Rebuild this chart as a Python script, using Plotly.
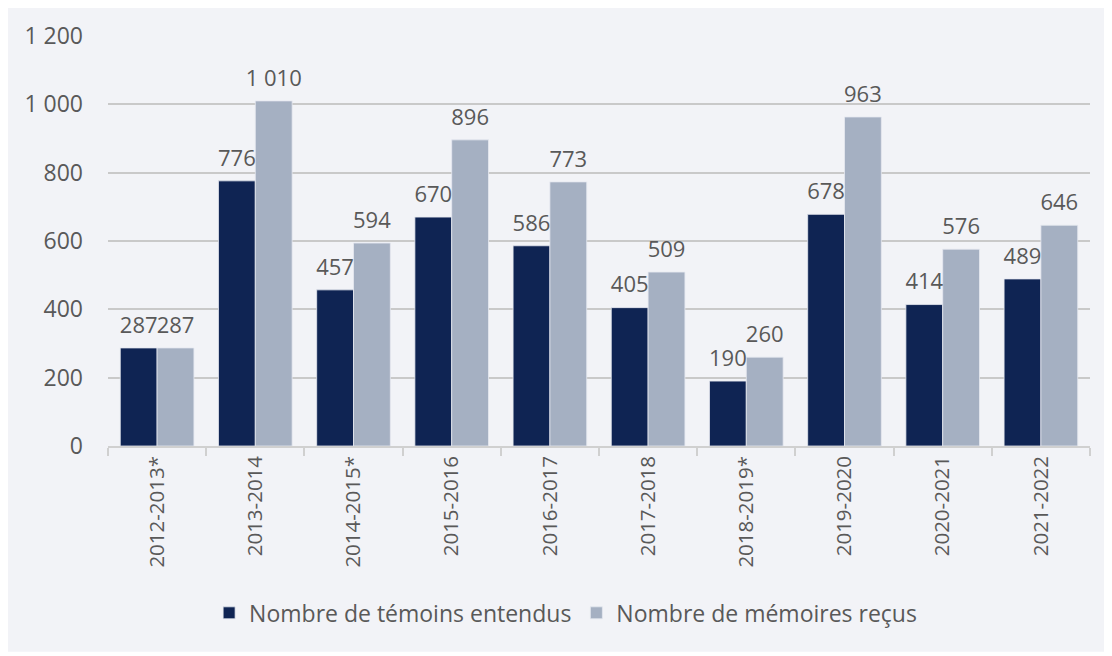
import plotly.graph_objects as go

# Données
annees = ['2012-2013*', '2013-2014', '2014-2015*', '2015-2016', '2016-2017',
          '2017-2018', '2018-2019*', '2019-2020', '2020-2021', '2021-2022']
temoins = [287, 776, 457, 670, 586, 405, 190, 678, 414, 489]
memoires = [287, 1010, 594, 896, 773, 509, 260, 963, 576, 646]


def fmt(v):
    return f"{v:,}".replace(",", " ")


police = "Open Sans, DejaVu Sans, sans-serif"
gris_texte = "#595959"

fig = go.Figure()
series = [("Nombre de témoins entendus", temoins, "#0f2453"),
          ("Nombre de mémoires reçus", memoires, "#a5b0c2")]
for nom, valeurs, couleur in series:
    fig.add_trace(go.Bar(
        x=annees, y=valeurs, name=nom,
        marker=dict(color=couleur, line=dict(color="#e6e9f0", width=0.8)),
    ))
# étiquettes de valeurs (un peu décollées des barres)
for nom, valeurs, couleur in series:
    fig.add_trace(go.Scatter(
        x=annees, y=valeurs, mode="markers+text", showlegend=False,
        marker=dict(size=14, opacity=0), hoverinfo="skip",
        text=[fmt(v) for v in valeurs], textposition="top center", cliponaxis=False,
        textfont=dict(size=22, color=gris_texte, family=police),
    ))

# Fond gris du graphique
fig.add_shape(type="rect", xref="paper", yref="paper", layer="below",
              x0=-0.102, x1=1.0163, y0=-0.502, y1=1.068,
              fillcolor="#f2f3f7", line=dict(width=0))

# la page ajoute une marge de 8 px autour de la figure
fig.update_layout(
    width=1104, height=648,
    margin=dict(l=100, r=22, t=28, b=210),
    paper_bgcolor="white", plot_bgcolor="rgba(0,0,0,0)",
    font=dict(family=police, color=gris_texte, size=18),
    barmode="group", bargap=0.25, bargroupgap=0,
    scattermode="group", scattergap=0.25,
    separators=", ",
    legend=dict(orientation="h", x=0.466, xanchor="center", y=-0.407, yanchor="middle",
                font=dict(size=23, color=gris_texte),
                itemwidth=30, bgcolor="rgba(0,0,0,0)"),
)
fig.update_yaxes(range=[0, 1200], dtick=200, tickformat=",d",
                 gridcolor="#c9c9c9", gridwidth=1.5, zeroline=False,
                 showline=False, ticklabelstandoff=24,
                 tickfont=dict(size=23, color=gris_texte))
fig.update_xaxes(tickangle=-90, tickson="boundaries", ticks="outside", ticklen=8,
                 tickcolor="#d0d0d0", tickwidth=1.5, showline=True,
                 linecolor="#d0d0d0", linewidth=1.5,
                 tickfont=dict(size=20.5, color=gris_texte))

fig.write_html("out.html")
